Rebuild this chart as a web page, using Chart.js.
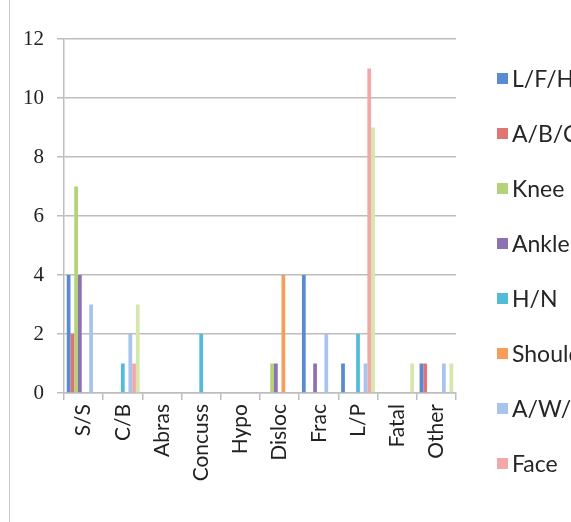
<!DOCTYPE html>
<html>
<head>
<meta charset="utf-8">
<title>Injuries by type</title>
<script src="https://cdn.jsdelivr.net/npm/chart.js@4.4.1/dist/chart.umd.min.js"></script>
<style>
  html, body { margin: 0; padding: 0; background: #fff; overflow: hidden; }
  #wrap { position: relative; width: 571px; height: 522px; overflow: hidden; }
  /* thin frame line down the left side */
  #wrap::before {
    content: ""; position: absolute; left: 9px; top: 0; bottom: 0;
    border-left: 1px solid #c6c6c6;
  }
  #chartBox { position: absolute; left: 0; top: 0; width: 571px; height: 522px; }
  #legend {
    position: absolute; left: 497px; top: 0; margin: 0; padding: 0;
    list-style: none; white-space: nowrap;
    font-family: Lato, "Open Sans", sans-serif; font-size: 23px; color: #262626;
  }
  #legend li { position: absolute; left: 0; display: flex; align-items: center; height: 30px; }
  #legend .box { width: 11px; height: 11px; margin-right: 4px; flex: none; }
</style>
</head>
<body>
<div id="wrap">
  <div id="chartBox"><canvas id="injuryChart"></canvas></div>
  <ul id="legend"></ul>
</div>
<script>
// injury types along the x axis
const categories = ["S/S", "C/B", "Abras", "Concuss", "Hypo", "Disloc", "Frac", "L/P", "Fatal", "Other"];

// body parts, one series each (last one has no legend entry)
const seriesNames = ["L/F/H", "A/B/C", "Knee", "Ankle", "H/N", "Shoulder", "A/W/H", "Face", "Misc"];

const lfh   = [4, 0, 0, 0, 0, 0, 4, 1, 0, 1];
const abc   = [2, 0, 0, 0, 0, 0, 0, 0, 0, 1];
const knee  = [7, 0, 0, 0, 0, 1, 0, 0, 0, 0];
const ankle = [4, 0, 0, 0, 0, 1, 1, 0, 0, 0];
const hn    = [0, 1, 0, 2, 0, 0, 0, 2, 0, 0];
const shoul = [0, 0, 0, 0, 0, 4, 0, 0, 0, 0];
const awh   = [3, 2, 0, 0, 0, 0, 2, 1, 0, 1];
const face  = [0, 1, 0, 0, 0, 0, 0, 11, 0, 0];
const misc  = [0, 3, 0, 0, 0, 0, 0, 9, 1, 1];

const yTicks = [0, 2, 4, 6, 8, 10, 12];

const seriesColors = [
  "#5a8bd2", "#e07572", "#b3d27a", "#8d72b3", "#52bbd8",
  "#f99c5a", "#a8c3ec", "#f1a8a7", "#d6e8a9"
];

(() => {
  const $ = (id) => document.getElementById(id);
  const LEGEND_COUNT = 8;
  const GRID = "#bdbdbd";
  const INK = "#222222";

  function buildDatasets() {
    const series = [lfh, abc, knee, ankle, hn, shoul, awh, face, misc];
    return series.map((data, i) => ({
      label: seriesNames[i],
      data,
      backgroundColor: seriesColors[i],
      borderWidth: 0,
      categoryPercentage: 0.86,
      barPercentage: 1.0
    }));
  }

  // html legend on the right, clipped by the page edge
  function renderLegend(chart) {
    const ul = $("legend");
    ul.innerHTML = "";
    chart.data.datasets.slice(0, LEGEND_COUNT).forEach((ds, i) => {
      const li = document.createElement("li");
      li.style.top = (78 - 15 + i * 55) + "px";
      const box = document.createElement("span");
      box.className = "box";
      box.style.background = ds.backgroundColor;
      const txt = document.createElement("span");
      txt.textContent = ds.label;
      li.appendChild(box);
      li.appendChild(txt);
      ul.appendChild(li);
    });
  }

  function renderChart() {
    if (!window.Chart) return;
    const canvas = $("injuryChart");

    const chart = new Chart(canvas, {
      type: "bar",
      data: {
        labels: categories,
        datasets: buildDatasets()
      },
      options: {
        responsive: true,
        maintainAspectRatio: false,
        animation: false,
        layout: { padding: { left: 0, top: 39, right: 115, bottom: 0 } },
        plugins: {
          legend: { display: false },
          tooltip: { enabled: false }
        },
        scales: {
          x: {
            afterFit: (scale) => { scale.height = 129; },
            grid: {
              display: true,
              drawOnChartArea: false,
              drawTicks: true,
              tickLength: 7,
              offset: true,
              color: GRID,
              lineWidth: 1.5
            },
            border: { color: GRID, width: 1.5 },
            ticks: {
              autoSkip: false,
              minRotation: 90,
              maxRotation: 90,
              padding: 4,
              color: INK,
              font: { family: "Lato", size: 21 }
            }
          },
          y: {
            min: 0,
            max: 12,
            afterBuildTicks: (scale) => {
              scale.ticks = yTicks.map(v => ({ value: v }));
            },
            afterFit: (scale) => { scale.width = 64; },
            grid: { color: GRID, lineWidth: 1.5, tickLength: 7, drawTicks: true },
            border: { color: GRID, width: 1.5 },
            ticks: {
              padding: 13,
              color: INK,
              font: { family: "Liberation Serif", size: 21 }
            }
          }
        }
      }
    });

    renderLegend(chart);
  }

  document.addEventListener("DOMContentLoaded", renderChart);
})();
</script>
</body>
</html>
